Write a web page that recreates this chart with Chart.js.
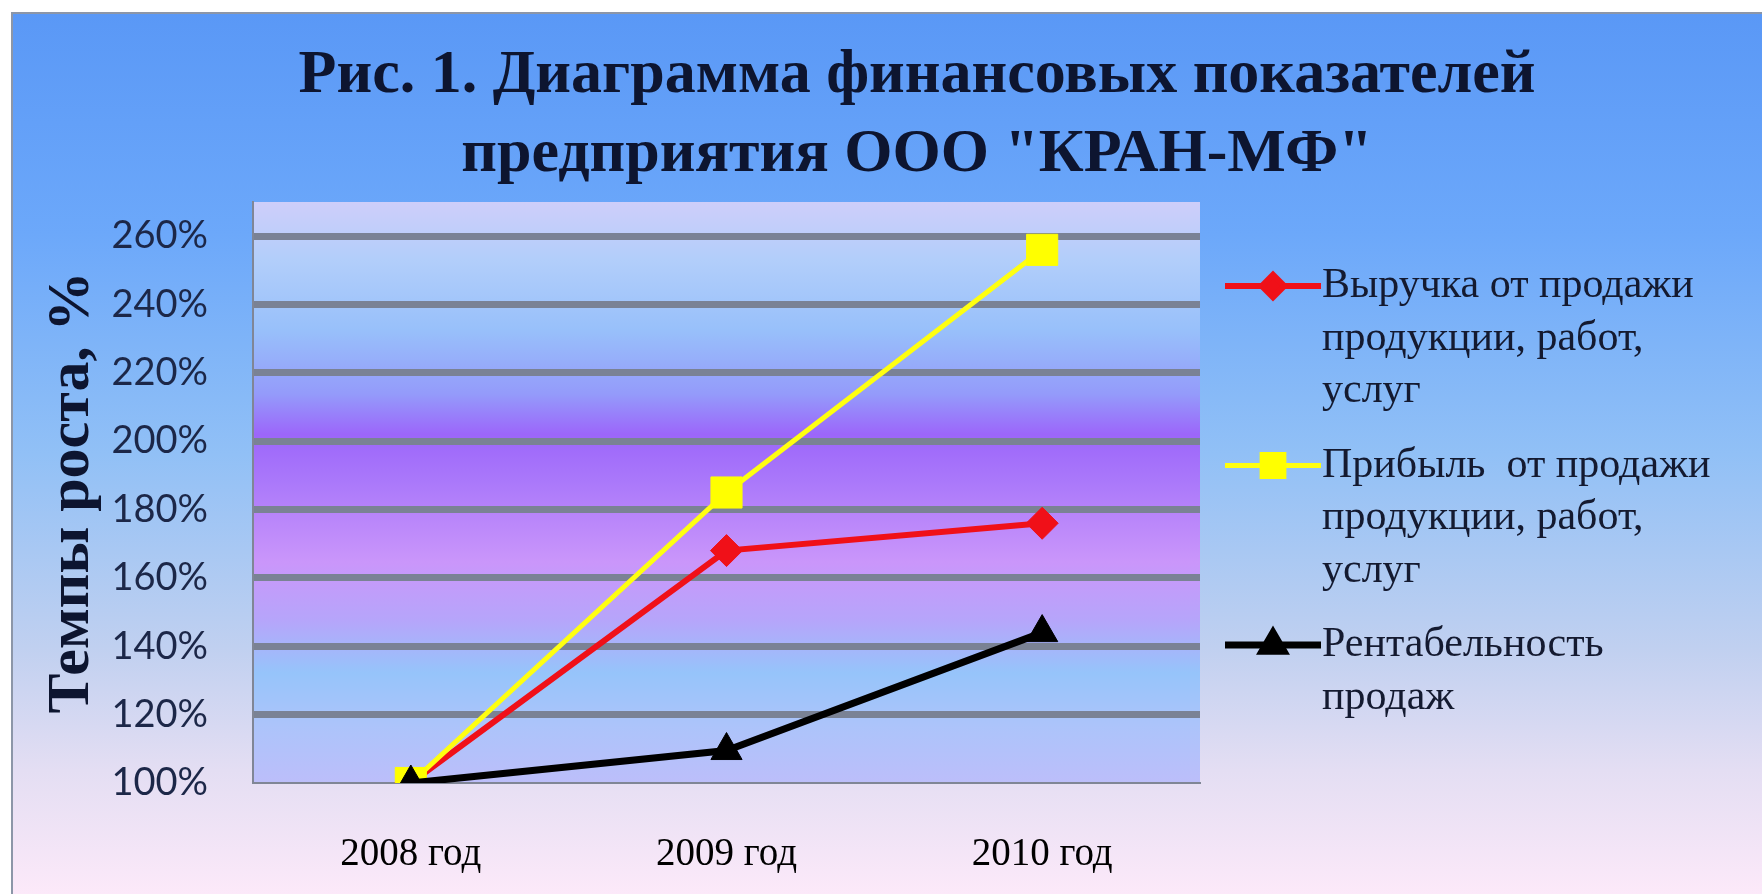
<!DOCTYPE html>
<html>
<head>
<meta charset="utf-8">
<script src="https://cdn.jsdelivr.net/npm/chart.js@4/dist/chart.umd.min.js"></script>
<style>
  html, body { margin: 0; padding: 0; background: #fff; }
  #wrap { width: 1762px; height: 894px; }
</style>
</head>
<body>
<div id="wrap"><canvas id="chart1" width="1762" height="894"></canvas></div>
<script>
const years = ['2008 год', '2009 год', '2010 год'];
const revenue = [100, 168, 176];
const profit = [100, 185, 256];
const margin = [100, 109.5, 144];
const yTickValues = [100, 120, 140, 160, 180, 200, 220, 240, 260];
const seriesNames = [
    ['Выручка от продажи', 'продукции, работ,', 'услуг'],
    ['Прибыль  от продажи', 'продукции, работ,', 'услуг'],
    ['Рентабельность', 'продаж']
];
const titleLines = ['Рис. 1. Диаграмма финансовых показателей', 'предприятия ООО "КРАН-МФ"'];
const axisTitle = 'Темпы роста, %';

const ctx1 = document.getElementById('chart1').getContext('2d');

// outer gradient + plot area gradient
const backgrounds = {
    id: 'backgrounds',
    beforeDraw: function(chart) {
        const ctx = chart.ctx;
        const w = chart.width;
        const h = chart.height;
        ctx.save();
        let g = ctx.createLinearGradient(0, 13, 0, h);
        g.addColorStop(0, 'rgb(90,152,246)');
        g.addColorStop(0.25, 'rgb(108,168,250)');
        g.addColorStop(0.5, 'rgb(145,192,246)');
        g.addColorStop(0.72, 'rgb(192,208,240)');
        g.addColorStop(0.86, 'rgb(228,222,243)');
        g.addColorStop(1, 'rgb(252,233,249)');
        ctx.fillStyle = g;
        ctx.fillRect(12, 13, w - 12, h - 13);
        ctx.strokeStyle = 'rgb(140,150,168)';
        ctx.lineWidth = 2;
        ctx.strokeRect(12, 13, w - 10, h);

        const a = chart.chartArea;
        g = ctx.createLinearGradient(0, a.top, 0, a.bottom);
        g.addColorStop(0, 'rgb(206,206,250)');
        g.addColorStop(0.1, 'rgb(178,206,250)');
        g.addColorStop(0.22, 'rgb(152,192,250)');
        g.addColorStop(0.33, 'rgb(148,155,250)');
        g.addColorStop(0.4, 'rgb(156,102,250)');
        g.addColorStop(0.48, 'rgb(170,120,250)');
        g.addColorStop(0.62, 'rgb(202,150,250)');
        g.addColorStop(0.72, 'rgb(182,165,250)');
        g.addColorStop(0.81, 'rgb(150,196,250)');
        g.addColorStop(0.9, 'rgb(172,196,250)');
        g.addColorStop(1, 'rgb(188,190,250)');
        ctx.fillStyle = g;
        ctx.fillRect(a.left, a.top, a.right - a.left, a.bottom - a.top);
        ctx.restore();
    }
};

// two-line title centred over the whole picture
const topTitle = {
    id: 'topTitle',
    afterDraw: function(chart) {
        const ctx = chart.ctx;
        ctx.save();
        ctx.fillStyle = '#0d1530';
        ctx.font = 'bold 62px "Liberation Serif", serif';
        ctx.textAlign = 'center';
        ctx.textBaseline = 'alphabetic';
        ctx.fillText(titleLines[0], 917, 92);
        ctx.fillText(titleLines[1], 917, 171);
        ctx.restore();
    }
};

// legend with line + marker samples, multi-line labels
const sideLegend = {
    id: 'sideLegend',
    afterDraw: function(chart) {
        const ctx = chart.ctx;
        const x0 = chart.chartArea.right + 25;
        const lineH = 52.5;
        let y = 286;
        ctx.save();
        chart.data.datasets.forEach(function(ds) {
            ctx.strokeStyle = ds.borderColor;
            ctx.lineWidth = ds.borderWidth;
            ctx.beginPath();
            ctx.moveTo(x0, y);
            ctx.lineTo(x0 + 96, y);
            ctx.stroke();
            ctx.fillStyle = ds.pointBackgroundColor;
            ctx.strokeStyle = ds.pointBorderColor;
            Chart.helpers.drawPoint(ctx, {
                pointStyle: ds.pointStyle,
                radius: ds.pointRadius * 0.7,
                rotation: 0,
                borderWidth: 1
            }, x0 + 48, y);
            ctx.fillStyle = '#141a30';
            ctx.font = '42px "Liberation Serif", serif';
            ctx.textAlign = 'left';
            ctx.textBaseline = 'middle';
            ds.legendText.forEach(function(t, i) {
                ctx.fillText(t, x0 + 97, y + i * lineH);
            });
            y += ds.legendText.length * lineH + 22;
        });
        ctx.restore();
    }
};

let chart = new Chart(ctx1, {
    type: 'line',
    data: {
        labels: years,
        datasets: [{
            label: seriesNames[0].join(' '),
            legendText: seriesNames[0],
            data: revenue,
            borderColor: '#F01018',
            borderWidth: 6,
            pointStyle: 'rectRot',
            pointRadius: 16,
            pointBackgroundColor: '#F01018',
            pointBorderColor: '#F01018',
            pointBorderWidth: 1,
            order: 2
        }, {
            label: seriesNames[1].join(' '),
            legendText: seriesNames[1],
            data: profit,
            borderColor: '#FFFF10',
            borderWidth: 5,
            pointStyle: 'rect',
            pointRadius: 22,
            pointBackgroundColor: '#FFFF00',
            pointBorderColor: '#FFFF00',
            pointBorderWidth: 1,
            order: 1
        }, {
            label: seriesNames[2].join(' '),
            legendText: seriesNames[2],
            data: margin,
            borderColor: '#000000',
            borderWidth: 7,
            pointStyle: 'triangle',
            pointRadius: 18,
            pointBackgroundColor: '#000000',
            pointBorderColor: '#000000',
            pointBorderWidth: 1,
            order: 0
        }]
    },
    options: {
        responsive: false,
        animation: false,
        layout: {
            autoPadding: false,
            padding: { top: 202, left: 36, right: 562, bottom: 0 }
        },
        scales: {
            x: {
                offset: true,
                afterFit: function(axis) { axis.height = 111; },
                grid: { display: false },
                border: { display: true, color: 'rgb(128,134,150)', width: 2 },
                ticks: {
                    padding: 40,
                    color: '#000000',
                    font: { family: '"Liberation Serif", serif', size: 39 }
                }
            },
            y: {
                min: 100,
                max: 270,
                afterFit: function(axis) { axis.width = 217; },
                afterBuildTicks: function(axis) {
                    axis.ticks = yTickValues.map(v => ({ value: v }));
                },
                grid: {
                    drawTicks: false,
                    color: 'rgb(122,130,148)',
                    lineWidth: function(c) {
                        return c.tick && c.tick.value === 100 ? 0 : 7;
                    }
                },
                border: { display: true, color: 'rgb(128,134,150)', width: 2 },
                ticks: {
                    padding: 45,
                    color: '#1c2748',
                    font: { family: 'Lato, sans-serif', size: 38 },
                    callback: function(v) { return v + '%'; }
                },
                title: {
                    display: true,
                    text: axisTitle,
                    color: '#0d1530',
                    padding: { top: 0, bottom: 9 },
                    font: { family: '"Liberation Serif", serif', size: 60, weight: 'bold' }
                }
            }
        },
        plugins: {
            legend: { display: false },
            tooltip: { enabled: false },
            title: { display: false }
        }
    },
    plugins: [backgrounds, topTitle, sideLegend]
});
</script>
</body>
</html>
